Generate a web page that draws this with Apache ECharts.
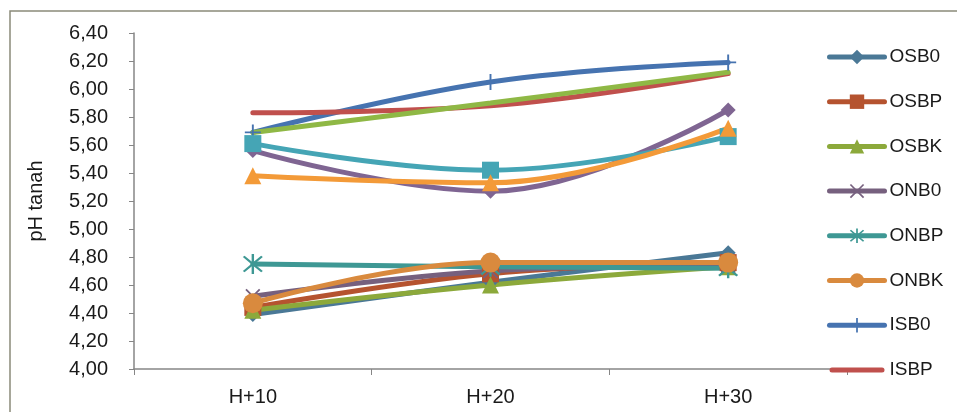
<!DOCTYPE html>
<html>
<head>
<meta charset="utf-8">
<script src="https://cdn.jsdelivr.net/npm/echarts@6/dist/echarts.min.js"></script>
<style>
html,body{margin:0;padding:0;background:#fff;}
#c{width:957px;height:412px;}
</style>
</head>
<body>
<div id="c"></div>
<script>
const categories = ['H+10', 'H+20', 'H+30'];
const seriesNames = ['OSB0','OSBP','OSBK','ONB0','ONBP','ONBK','ISB0','ISBP','ISBK','INB0','INBP','INBK'];
const legendNames = ['OSB0','OSBP','OSBK','ONB0','ONBP','ONBK','ISB0','ISBP'];
const OSB0 = [4.39, 4.62, 4.83];
const OSBP = [4.44, 4.68, 4.76];
const OSBK = [4.42, 4.60, 4.73];
const ONB0 = [4.52, 4.70, 4.74];
const ONBP = [4.75, 4.73, 4.72];
const ONBK = [4.47, 4.76, 4.76];
const ISB0 = [5.69, 6.05, 6.19];
const ISBP = [5.83, 5.88, 6.11];
const ISBK = [5.69, 5.90, 6.12];
const INB0 = [5.56, 5.27, 5.85];
const INBP = [5.61, 5.42, 5.66];
const INBK = [5.38, 5.33, 5.72];
const yMin = 4.0, yMax = 6.4, yStep = 0.2;

const values = [OSB0, OSBP, OSBK, ONB0, ONBP, ONBK, ISB0, ISBP, ISBK, INB0, INBP, INBK];
const colors = ['#4A7896','#B5532F','#8CA93B','#76607E','#3E9894','#D98A3E','#4673B0','#C0504D','#8FB845','#7F6592','#45A5B5','#F39A38'];
const symPlus = 'path://M-1.2,-10 L1.2,-10 L1.2,-1.2 L10,-1.2 L10,1.2 L1.2,1.2 L1.2,10 L-1.2,10 L-1.2,1.2 L-10,1.2 L-10,-1.2 L-1.2,-1.2 Z';
const symX = 'path://M0,1.7 L8.3,10 L10,8.3 L1.7,0 L10,-8.3 L8.3,-10 L0,-1.7 L-8.3,-10 L-10,-8.3 L-1.7,0 L-10,8.3 L-8.3,10 Z';
const symStar = 'path://M0,1.7 L8.3,10 L10,8.3 L1.7,0 L10,-8.3 L8.3,-10 L0,-1.7 L-8.3,-10 L-10,-8.3 L-1.7,0 L-10,8.3 L-8.3,10 Z M-1.2,-12 L1.2,-12 L1.2,12 L-1.2,12 Z';
const symbols = ['diamond','rect','triangle',symX,symStar,'circle',symPlus,'none','none','diamond','rect','triangle'];
const sizes = [15,17,17,15,20,20,16,0,0,15,17,17];
const lineIcon = 'path://M2.5,0 L52.5,0 A2.5,2.5 0 0 1 52.5,5 L2.5,5 A2.5,2.5 0 0 1 2.5,0 Z';

const chart = echarts.init(document.getElementById('c'));
const series = seriesNames.map((n,i)=>({
  name: n,
  type: 'line',
  data: values[i],
  smooth: 0.4,
  symbol: symbols[i],
  symbolSize: sizes[i],
  showSymbol: symbols[i] !== 'none',
  lineStyle: {width: 5, color: colors[i], cap: 'round'},
  itemStyle: {color: colors[i]},
  emphasis: {disabled: true}
}));

chart.setOption({
  animation: false,
  backgroundColor: '#ffffff',
  textStyle: {fontFamily: 'Liberation Sans'},
  grid: {left: 134, right: 110, top: 33, bottom: 43, containLabel: false},
  legend: {
    data: legendNames.map(n => n === 'ISBP' ? {name: n, icon: lineIcon} : {name: n}),
    orient: 'vertical',
    left: 827,
    top: 47,
    padding: 0,
    itemWidth: 55,
    itemHeight: 18,
    itemGap: 24.7,
    lineStyle: {width: 5, cap: 'round'},
    textStyle: {fontSize: 19, color: '#1a1a1a', lineHeight: 20, fontFamily: 'Liberation Sans'}
  },
  xAxis: {
    type: 'category',
    data: categories,
    boundaryGap: true,
    axisLine: {lineStyle: {color: '#868686', width: 1.5}},
    axisTick: {show: true, length: 6, lineStyle: {color: '#868686'}},
    axisLabel: {fontSize: 20, color: '#1a1a1a', margin: 18, fontFamily: 'Liberation Sans'},
    splitLine: {show: false}
  },
  yAxis: {
    type: 'value',
    min: yMin, max: yMax, interval: yStep,
    name: 'pH tanah',
    nameLocation: 'middle',
    nameGap: 88,
    nameTextStyle: {fontSize: 20, color: '#1a1a1a', fontFamily: 'Liberation Sans'},
    axisLine: {show: true, lineStyle: {color: '#868686', width: 1.5}},
    axisTick: {show: true, length: 5, lineStyle: {color: '#868686'}},
    axisLabel: {fontSize: 20, color: '#1a1a1a', margin: 26, fontFamily: 'Liberation Sans',
      formatter: v => v.toFixed(2).replace('.', ',')},
    splitLine: {show: false}
  },
  graphic: [{
    type: 'polyline',
    shape: {points: [[10, 420], [10, 11], [965, 11]]},
    style: {stroke: '#8a8a7a', lineWidth: 1.5, fill: null},
    silent: true
  }],
  series: series
});
</script>
</body>
</html>
